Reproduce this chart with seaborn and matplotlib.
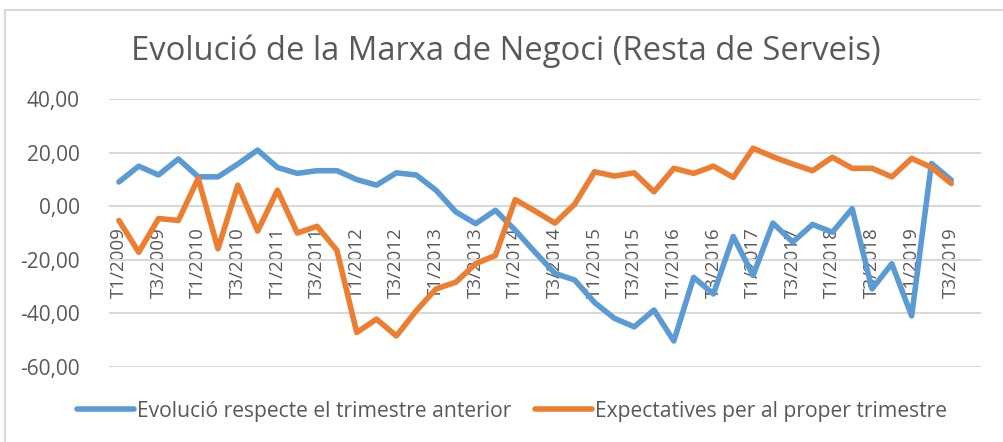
import matplotlib
matplotlib.use("Agg")
import matplotlib.pyplot as plt
import matplotlib.ticker as mticker
from matplotlib.patches import Rectangle
import pandas as pd
import seaborn as sns

# Quarterly series, 2009 T1 to 2019 T3
anys = list(range(2009, 2020))
trimestres = ["T1", "T2", "T3", "T4"]
etiquetes = [f"{t}/{a}" for a in anys for t in trimestres][:43]

evolucio = [9.1, 15.0, 11.7, 17.7, 11.0, 11.0, 15.8, 21.0, 14.5, 12.3, 13.3,
            13.3, 10.0, 7.9, 12.5, 11.7, 6.0, -2.1, -6.5, -1.5, -9.0, -17.2,
            -25.1, -27.6, -36.0, -41.9, -45.1, -38.8, -50.4, -26.6, -32.8,
            -11.3, -25.9, -6.3, -13.4, -6.8, -9.7, -0.9, -30.9, -21.5, -41.0,
            16.0, 9.8]
expectatives = [-5.3, -17.2, -4.6, -5.3, 10.4, -15.9, 7.9, -9.3, 6.0, -10.0,
                -7.5, -16.5, -47.2, -42.2, -48.5, -39.1, -30.9, -28.4, -21.5,
                -18.4, 2.5, -1.8, -6.3, 0.8, 12.9, 11.3, 12.5, 5.4, 14.2, 12.3,
                15.0, 10.8, 21.7, 18.5, 15.8, 13.3, 18.3, 14.2, 14.2, 11.0,
                17.9, 14.5, 8.5]

noms = ["Evolució respecte el trimestre anterior",
        "Expectatives per al proper trimestre"]
colors = ["#5B9BD5", "#ED7D31"]
titol = "Evolució de la Marxa de Negoci (Resta de Serveis)"

sns.set_style("white")
plt.rcParams["font.family"] = ["Open Sans", "DejaVu Sans"]
gris = "#595959"

df = pd.DataFrame({
    "idx": list(range(len(evolucio))) * 2,
    "valor": evolucio + expectatives,
    "serie": [noms[0]] * len(evolucio) + [noms[1]] * len(expectatives),
})

W, H = 1004, 442
fig = plt.figure(figsize=(W / 100, H / 100), dpi=100)
ax = fig.add_axes([109 / W, 1 - 366.7 / H, 872 / W, 267.4 / H])

sns.lineplot(data=df, x="idx", y="valor", hue="serie", palette=colors,
             linewidth=4, ax=ax, legend=True,
             solid_capstyle="round", solid_joinstyle="round")

ax.set_xlim(-0.5, 43.5)
ax.set_ylim(-60, 40)
ax.yaxis.set_major_locator(mticker.MultipleLocator(20))
ax.yaxis.set_major_formatter(
    mticker.FuncFormatter(lambda v, _: f"{v:.2f}".replace(".", ",")))
ax.grid(axis="y", color="#D9D9D9", linewidth=1.5)
ax.grid(axis="x", visible=False)
ax.set_axisbelow(True)
for s in ax.spines.values():
    s.set_visible(False)

# category labels sit next to the zero line
ax.spines["bottom"].set_position(("data", 0))
ax.set_xticks(list(range(0, 43, 2)))
ax.set_xticklabels(etiquetes[::2], rotation=90, va="top", ha="center")
ax.tick_params(axis="x", length=0, pad=15, labelsize=13.5, labelcolor=gris)
ax.tick_params(axis="y", length=0, pad=21, labelsize=15, labelcolor=gris)
ax.set_xlabel("")
ax.set_ylabel("")

fig.text(506 / W, 1 - 51 / H, titol, ha="center", va="center",
         fontsize=23.6, color=gris)

handles, labels = ax.get_legend_handles_labels()
ax.legend(handles, labels, loc="center", ncol=2, frameon=False,
          bbox_to_anchor=(512 / W, 1 - 411 / H), bbox_transform=fig.transFigure,
          fontsize=15.2, handlelength=2.7, handletextpad=0.15,
          columnspacing=1.1, labelcolor=gris)

# chart area frame
fig.patches.append(Rectangle((5 / W, -0.1), 1.1, 1 - 10 / H + 0.1,
                             transform=fig.transFigure, fill=False,
                             edgecolor="#D9D9D9", linewidth=1.5))

fig.savefig("out.png", dpi=100)
